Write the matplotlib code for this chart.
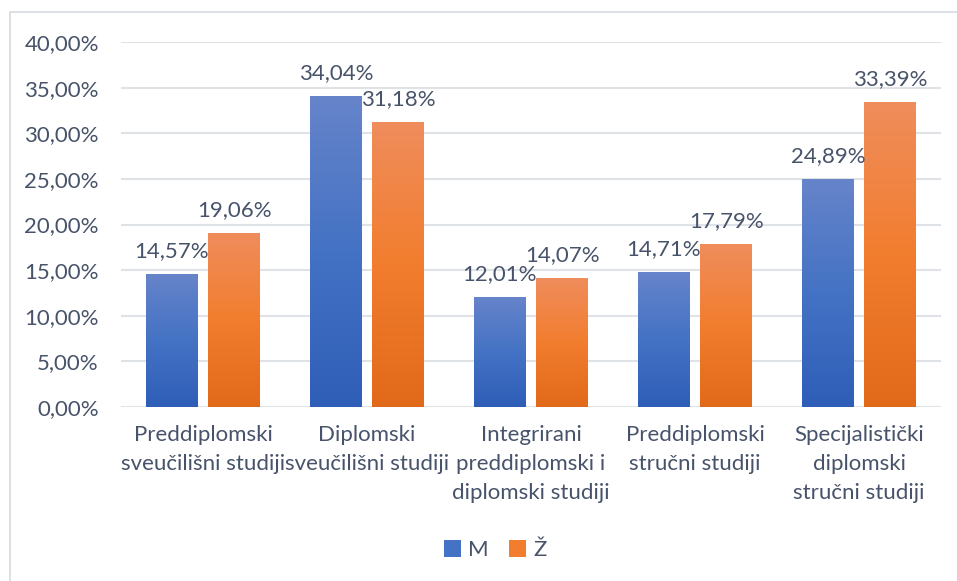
import matplotlib
matplotlib.use("Agg")
import matplotlib.pyplot as plt
import numpy as np
from matplotlib.colors import LinearSegmentedColormap
from matplotlib.patches import Patch, Rectangle
from matplotlib.ticker import FuncFormatter

categories = [
    "Preddiplomski\nsveučilišni studiji",
    "Diplomski\nsveučilišni studiji",
    "Integrirani\npreddiplomski i\ndiplomski studiji",
    "Preddiplomski\nstručni studiji",
    "Specijalistički\ndiplomski\nstručni studiji",
]
series_names = ["M", "Ž"]
m_values = [14.57, 34.04, 12.01, 14.71, 24.89]
z_values = [19.06, 31.18, 14.07, 17.79, 33.39]

TEXT = "#47536a"
GRID = "#dfe3e8"
BLUE = ["#2f5eb8", "#4472c4", "#6684ca"]
ORANGE = ["#e1691a", "#f27d2e", "#ef8d5c"]

plt.rcParams["font.family"] = ["Lato", "DejaVu Sans"]
plt.rcParams["font.size"] = 16


def pct(v, _pos=None):
    return f"{v:.2f}%".replace(".", ",")


def gradient_bars(ax, bars, colors):
    # Excel-style vertical gradient, lighter at the top of each bar
    cmap = LinearSegmentedColormap.from_list("g", colors)
    grad = np.linspace(0, 1, 256).reshape(-1, 1)
    for b in bars:
        x0, y0 = b.get_x(), b.get_y()
        ax.imshow(grad, cmap=cmap, origin="lower", aspect="auto",
                  extent=(x0, x0 + b.get_width(), y0, y0 + b.get_height()),
                  zorder=3, interpolation="bilinear")
        b.set_visible(False)


W, H = 957, 581
fig = plt.figure(figsize=(W / 100, H / 100), dpi=100)
fig.patches.append(Rectangle((10 / W, -0.1), 1.2, 1.1 - 12 / H,
                             transform=fig.transFigure, fill=False,
                             edgecolor="#d9dde2", linewidth=1.3))
ax = fig.add_axes([121 / W, 1 - 407 / H, 820 / W, 365 / H])

x = np.arange(len(categories))
bw = 0.317
off = 0.19
bars_m = ax.bar(x - off, m_values, bw, label=series_names[0])
bars_z = ax.bar(x + off, z_values, bw, label=series_names[1])
gradient_bars(ax, bars_m, BLUE)
gradient_bars(ax, bars_z, ORANGE)

for bars, vals in ((bars_m, m_values), (bars_z, z_values)):
    for b, v in zip(bars, vals):
        ax.annotate(pct(v), (b.get_x() + b.get_width() / 2, v),
                    xytext=(0, 12.5), textcoords="offset points",
                    ha="center", va="baseline", color=TEXT, zorder=5)

ax.set_xlim(-0.5, len(categories) - 0.5)
ax.set_ylim(0, 40)
ax.set_yticks(np.arange(0, 41, 5))
ax.yaxis.set_major_formatter(FuncFormatter(pct))
ax.set_xticks(x)
ax.set_xticklabels(categories, linespacing=1.55)
ax.tick_params(axis="both", length=0, colors=TEXT, labelsize=16)
ax.tick_params(axis="y", pad=16)
ax.tick_params(axis="x", pad=13)
ax.grid(axis="y", color=GRID, linewidth=1.5, zorder=0)
ax.set_axisbelow(True)
for s in ax.spines.values():
    s.set_visible(False)

handles = [Patch(facecolor=BLUE[1], label=series_names[0]),
           Patch(facecolor=ORANGE[1], label=series_names[1])]
fig.legend(handles=handles, loc="center", bbox_to_anchor=(495 / W, 1 - 550 / H),
           ncol=2, frameon=False, handlelength=0.8, handleheight=0.8,
           handletextpad=0.3, columnspacing=0.9, labelcolor=TEXT, fontsize=16)

fig.savefig("out.png", dpi=100)
